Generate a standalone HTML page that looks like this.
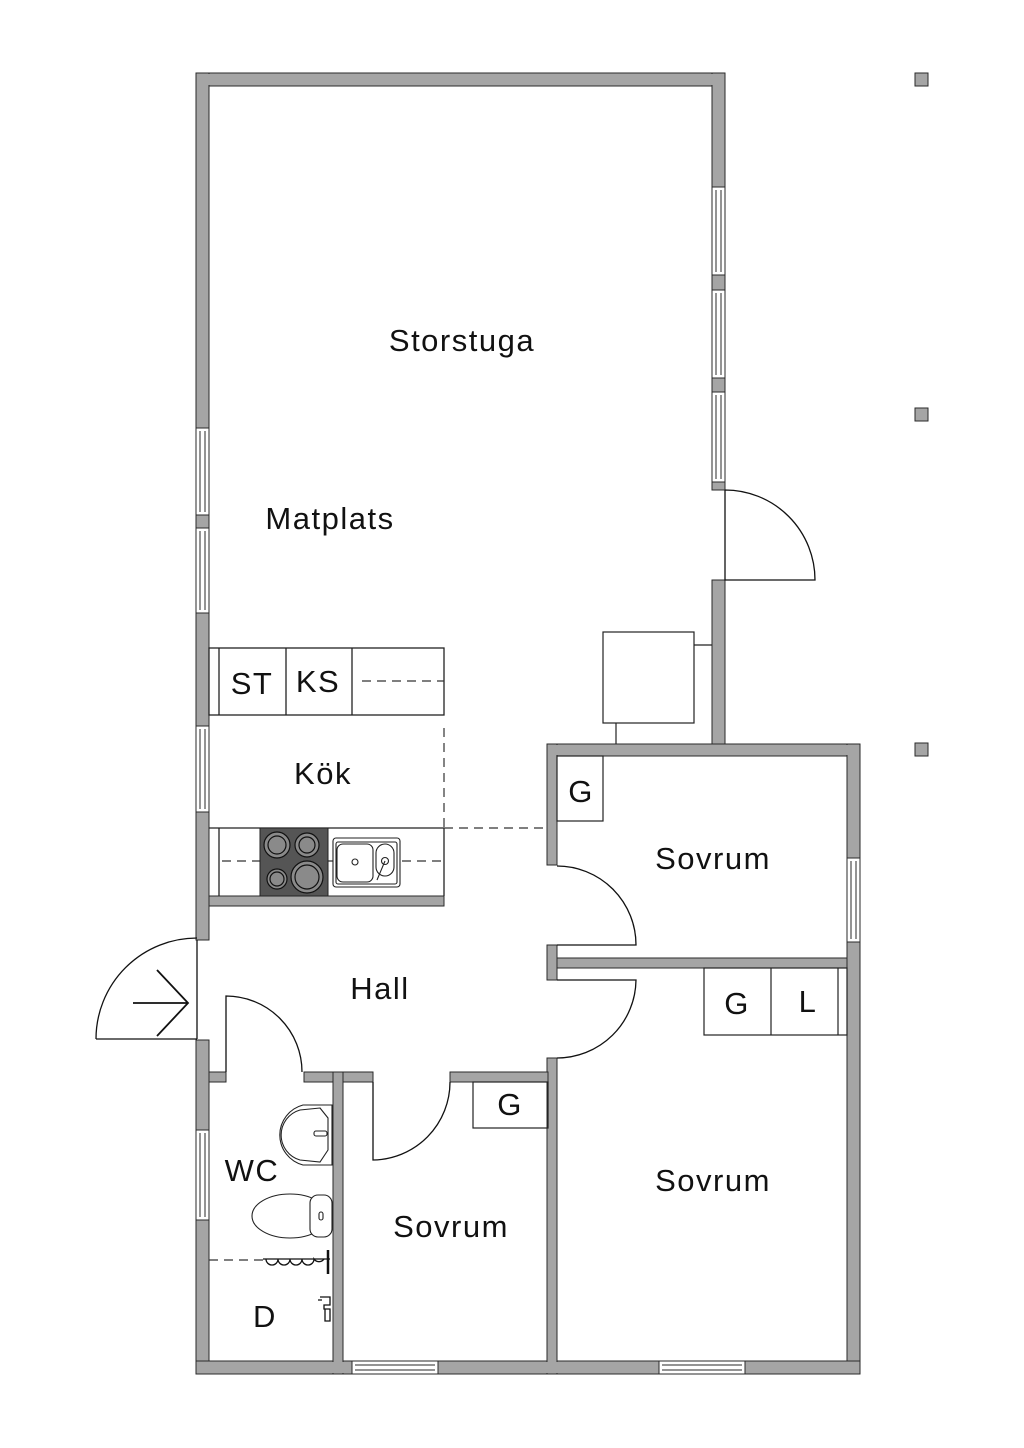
<!DOCTYPE html>
<html><head><meta charset="utf-8"><style>
html,body{margin:0;padding:0;background:#fff;}
svg{display:block}
text{font-family:"Liberation Sans",sans-serif;fill:#111;text-anchor:middle;letter-spacing:1.5px;}
</style></head><body>
<svg width="1024" height="1448" viewBox="0 0 1024 1448" xmlns="http://www.w3.org/2000/svg">
<g fill="#a5a5a5" stroke="#2a2a2a" stroke-width="1">
<rect x="196" y="73" width="529" height="13"/>
<rect x="196" y="73" width="13" height="867"/>
<rect x="196" y="1040" width="13" height="334"/>
<rect x="712" y="73" width="13" height="417"/>
<rect x="712" y="580" width="13" height="176"/>
<rect x="547" y="744" width="313" height="12"/>
<rect x="847" y="744" width="13" height="630"/>
<rect x="196" y="1361" width="664" height="13"/>
<rect x="547" y="744" width="10" height="121"/>
<rect x="547" y="945" width="10" height="35"/>
<rect x="557" y="958" width="290" height="10"/>
<rect x="547" y="1058" width="10" height="316"/>
<rect x="209" y="896" width="235" height="10"/>
<rect x="209" y="1072" width="17" height="10"/>
<rect x="304" y="1072" width="69" height="10"/>
<rect x="450" y="1072" width="98" height="10"/>
<rect x="333" y="1072" width="10" height="302"/>
</g>
<g fill="#a5a5a5">
<rect x="197" y="74" width="527" height="11"/>
<rect x="713" y="74" width="11" height="12"/>
<rect x="548" y="745" width="311" height="10"/>
<rect x="848" y="745" width="11" height="12"/>
<rect x="197" y="1362" width="662" height="11"/>
<rect x="334" y="1073" width="8" height="10"/>
<rect x="548" y="1362" width="8" height="11"/>
<rect x="334" y="1362" width="8" height="11"/>
<rect x="848" y="959" width="11" height="8"/>
<rect x="848" y="1362" width="11" height="11"/>
</g>
<g fill="#fff" stroke="#2a2a2a" stroke-width="1">
<rect x="712" y="187" width="13" height="88"/><line x1="716" y1="190" x2="716" y2="272"/><line x1="721" y1="190" x2="721" y2="272"/>
<rect x="712" y="290" width="13" height="88"/><line x1="716" y1="293" x2="716" y2="375"/><line x1="721" y1="293" x2="721" y2="375"/>
<rect x="712" y="392" width="13" height="90"/><line x1="716" y1="395" x2="716" y2="479"/><line x1="721" y1="395" x2="721" y2="479"/>
<rect x="196" y="428" width="13" height="87"/><line x1="200" y1="431" x2="200" y2="512"/><line x1="205" y1="431" x2="205" y2="512"/>
<rect x="196" y="528" width="13" height="85"/><line x1="200" y1="531" x2="200" y2="610"/><line x1="205" y1="531" x2="205" y2="610"/>
<rect x="196" y="726" width="13" height="86"/><line x1="200" y1="729" x2="200" y2="809"/><line x1="205" y1="729" x2="205" y2="809"/>
<rect x="196" y="1130" width="13" height="90"/><line x1="200" y1="1133" x2="200" y2="1217"/><line x1="205" y1="1133" x2="205" y2="1217"/>
<rect x="847" y="858" width="13" height="84"/><line x1="851" y1="861" x2="851" y2="939"/><line x1="856" y1="861" x2="856" y2="939"/>
<rect x="352" y="1361" width="86" height="13"/><line x1="355" y1="1365" x2="435" y2="1365"/><line x1="355" y1="1370" x2="435" y2="1370"/>
<rect x="659" y="1361" width="86" height="13"/><line x1="662" y1="1365" x2="742" y2="1365"/><line x1="662" y1="1370" x2="742" y2="1370"/>
</g>
<g fill="#a5a5a5" stroke="#2a2a2a" stroke-width="1">
<rect x="915" y="73" width="13" height="13"/>
<rect x="915" y="408" width="13" height="13"/>
<rect x="915" y="743" width="13" height="13"/>
</g>
<g fill="none" stroke="#111" stroke-width="1.3">
<path d="M96 1039 L197 1039 M197 940 L197 1039 M96 1039 A101 101 0 0 1 197 938"/>
<path d="M133 1003 L188 1003 M157 970 L188 1003 L157 1036" stroke-width="1.8"/>
<path d="M226 1072 L226 996 A76 76 0 0 1 302 1072"/>
<path d="M373 1082 L373 1160 A78 78 0 0 0 450 1082"/>
<path d="M557 945 L636 945 A79 79 0 0 0 557 866"/>
<path d="M557 980 L636 980 A79 79 0 0 1 557 1058"/>
<path d="M725 490 L725 580 L815 580 A90 90 0 0 0 725 490"/>
</g>
<g fill="#fff" stroke="#222" stroke-width="1.2">
<rect x="603" y="632" width="91" height="91"/>
<line x1="694" y1="645" x2="712" y2="645"/>
<line x1="616" y1="723" x2="616" y2="744"/>
</g>
<g fill="none" stroke="#222" stroke-width="1.3">
<rect x="209" y="648" width="235" height="67"/>
<line x1="219" y1="648" x2="219" y2="715"/>
<line x1="286" y1="648" x2="286" y2="715"/>
<line x1="352" y1="648" x2="352" y2="715"/>
<line x1="209" y1="828" x2="444" y2="828"/>
<line x1="444" y1="828" x2="444" y2="896"/>
<line x1="219" y1="828" x2="219" y2="896"/>
</g>
<g fill="none" stroke="#333" stroke-width="1.2" stroke-dasharray="9 6">
<line x1="362" y1="681" x2="444" y2="681"/>
<line x1="444" y1="728" x2="444" y2="828"/>
<line x1="444" y1="828" x2="547" y2="828"/>
<line x1="222" y1="861" x2="444" y2="861"/>
<line x1="209" y1="1260" x2="265" y2="1260"/>
</g>
<rect x="260" y="828" width="68" height="68" fill="#555" stroke="#222"/>
<g fill="#8a8a8a" stroke="#111" stroke-width="1.2">
<circle cx="277" cy="845" r="13"/><circle cx="277" cy="845" r="9"/>
<circle cx="307" cy="845" r="12"/><circle cx="307" cy="845" r="8"/>
<circle cx="277" cy="879" r="10"/><circle cx="277" cy="879" r="7"/>
<circle cx="307" cy="877" r="16"/><circle cx="307" cy="877" r="12"/>
</g>
<g fill="#fff" stroke="#222" stroke-width="1.1">
<rect x="333" y="838" width="67" height="49" rx="3"/>
<rect x="336" y="842" width="61" height="42" rx="2"/>
<rect x="337" y="844" width="36" height="38" rx="6"/>
<rect x="376" y="844" width="18" height="32" rx="9"/>
<circle cx="355" cy="862" r="3"/>
<circle cx="385" cy="861" r="3.5"/>
<line x1="385" y1="861" x2="377" y2="880"/>
</g>
<g fill="none" stroke="#222" stroke-width="1.2">
<rect x="557" y="756" width="46" height="65"/>
<rect x="704" y="968" width="143" height="67"/>
<line x1="771" y1="968" x2="771" y2="1035"/>
<line x1="838" y1="968" x2="838" y2="1035"/>
<rect x="473" y="1082" width="75" height="46"/>
</g>
<g fill="#fff" stroke="#222" stroke-width="1.1">
<path d="M332 1105 L303 1105 A31 31 0 0 0 303 1165 L332 1165 Z"/>
<path d="M320 1108 L300 1110 A26 26 0 0 0 300 1160 L320 1162 L328 1150 L328 1118 Z"/>
<rect x="314" y="1131" width="13" height="5" rx="2"/>
<ellipse cx="290" cy="1216" rx="38" ry="22"/>
<rect x="310" y="1195" width="22" height="42" rx="8"/>
<rect x="319" y="1212" width="4" height="8" rx="2"/>
</g>
<g fill="none" stroke="#111" stroke-width="1.3">
<path d="M263 1259 L330 1259"/>
<path d="M266 1259 a6 6 0 0 0 12 0 a6 6 0 0 0 12 0 a6 6 0 0 0 12 0 a6 6 0 0 0 12 0 a6 6 0 0 0 10 0"/>
<line x1="328" y1="1250" x2="328" y2="1274" stroke-width="2.5"/>
<path d="M320 1297 h10 v8 h-6 v4 h6 v12 h-5 v-12 M318 1300 h4"/>
</g>
<g font-size="31">
<text x="462" y="351">Storstuga</text>
<text x="330" y="529">Matplats</text>
<text x="252" y="694">ST</text>
<text x="318" y="692">KS</text>
<text x="323" y="784">Kök</text>
<text x="581" y="802">G</text>
<text x="713" y="869">Sovrum</text>
<text x="380" y="999">Hall</text>
<text x="737" y="1014">G</text>
<text x="808" y="1012">L</text>
<text x="510" y="1115">G</text>
<text x="252" y="1181">WC</text>
<text x="713" y="1191">Sovrum</text>
<text x="451" y="1237">Sovrum</text>
<text x="265" y="1327">D</text>
</g>
</svg>
</body></html>
